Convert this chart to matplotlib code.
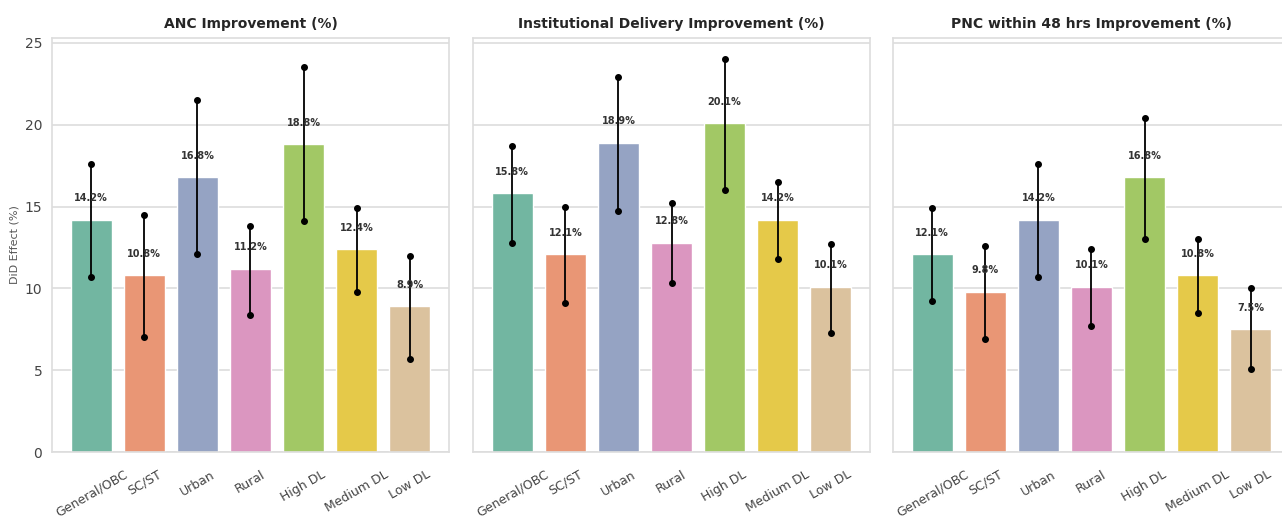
import numpy as np
import matplotlib
matplotlib.use("Agg")
import matplotlib.pyplot as plt
import seaborn as sns

groups = ["General/OBC", "SC/ST", "Urban", "Rural", "High DL", "Medium DL", "Low DL"]

titles = ["ANC Improvement (%)",
          "Institutional Delivery Improvement (%)",
          "PNC within 48 hrs Improvement (%)"]

# DiD point estimates
anc_effect = [14.2, 10.8, 16.8, 11.2, 18.8, 12.4, 8.9]
inst_effect = [15.8, 12.1, 18.9, 12.8, 20.1, 14.2, 10.1]
pnc_effect = [12.1, 9.8, 14.2, 10.1, 16.8, 10.8, 7.5]

# 95% CI bounds
anc_lo = [10.7, 7.0, 12.1, 8.4, 14.1, 9.8, 5.7]
anc_hi = [17.6, 14.5, 21.5, 13.8, 23.5, 14.9, 12.0]
inst_lo = [12.8, 9.1, 14.7, 10.3, 16.0, 11.8, 7.3]
inst_hi = [18.7, 15.0, 22.9, 15.2, 24.0, 16.5, 12.7]
pnc_lo = [9.2, 6.9, 10.7, 7.7, 13.0, 8.5, 5.1]
pnc_hi = [14.9, 12.6, 17.6, 12.4, 20.4, 13.0, 10.0]

sns.set_style("whitegrid")
colors = [sns.desaturate(c, 0.75) for c in sns.color_palette("Set2", len(groups))]

fig = plt.figure(figsize=(12.82, 5.29), dpi=100)
lefts = [52, 473, 893]
axes = []
for i, left in enumerate(lefts):
    ax = fig.add_axes([left / 1282, (529 - 452) / 529, 397 / 1282, 414 / 529],
                      sharey=axes[0] if axes else None)
    axes.append(ax)

panels = [
    (anc_effect, anc_lo, anc_hi),
    (inst_effect, inst_lo, inst_hi),
    (pnc_effect, pnc_lo, pnc_hi),
]

x = np.arange(len(groups))
for i, (ax, (eff, lo, hi)) in enumerate(zip(axes, panels)):
    ax.bar(x, eff, width=0.78, color=colors, zorder=2)
    ax.vlines(x, lo, hi, color="black", linewidth=1.3, zorder=3)
    ax.plot(x, lo, "o", color="black", markersize=4, zorder=4)
    ax.plot(x, hi, "o", color="black", markersize=4, zorder=4)
    for xi, v in zip(x, eff):
        ax.text(xi, v + 1.0, f"{v:.1f}%", ha="center", va="bottom",
                fontsize=7, fontweight="bold", color="#333333", zorder=5)
    ax.set_title(titles[i], fontsize=10, fontweight="bold", pad=7)
    ax.set_xticks(x)
    ax.set_xticklabels(groups, rotation=30, ha="center", fontsize=9, color="#444444")
    ax.tick_params(axis="x", pad=8)
    ax.set_xlim(-0.74, 6.74)
    ax.grid(axis="x", visible=False)
    ax.grid(axis="y", color="#dddddd", linewidth=1.2)
    for s in ax.spines.values():
        s.set_color("#dddddd")
        s.set_linewidth(1.2)
    if i > 0:
        ax.tick_params(axis="y", labelleft=False)

axes[0].set_ylim(0, 25.3)
axes[0].set_yticks([0, 5, 10, 15, 20, 25])
axes[0].tick_params(axis="y", labelsize=10, labelcolor="#444444")
axes[0].set_ylabel("DiD Effect (%)", fontsize=8, color="#555555")

fig.savefig("out.png", dpi=100)
